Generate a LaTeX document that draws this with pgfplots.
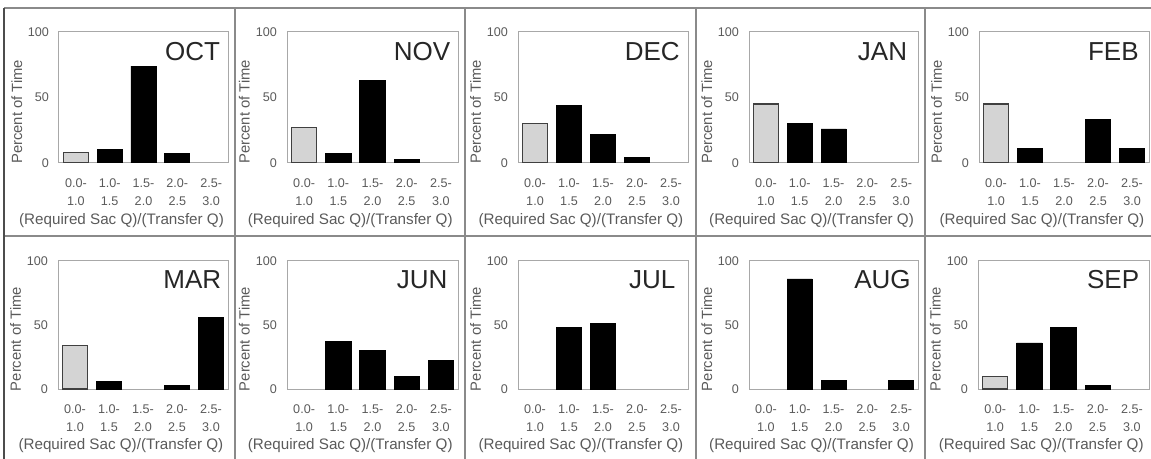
\documentclass[border=0pt]{standalone}
\usepackage{pgfplots}
\pgfplotsset{compat=1.18}
\usepackage{fontspec}
\setmainfont{Liberation Sans}
\definecolor{tickgray}{HTML}{5A5A5A}
\definecolor{framegray}{HTML}{8A8A8A}
\definecolor{lightbar}{HTML}{D4D4D4}
\definecolor{boxgray}{HTML}{A8A8A8}

\pgfplotsset{panel/.style={
  scale only axis,
  xmin=-0.5, xmax=4.5, ymin=0, ymax=100,
  ytick={0,50,100},
  xtick={0,1,2,3,4},
  xticklabels={{0.0-\\1.0},{1.0-\\1.5},{1.5-\\2.0},{2.0-\\2.5},{2.5-\\3.0}},
  x tick label style={align=center, font=\fontsize{6.3}{9}\selectfont, text=tickgray, yshift=-4.5pt},
  y tick label style={font=\fontsize{6.3}{7}\selectfont, text=tickgray, xshift=-1.5pt},
  /pgf/number format/assume math mode=true,
  major tick length=0pt,
  axis line style={draw=boxgray, line width=0.5pt},
  ylabel={Percent of Time},
  ylabel style={at={(axis description cs:-0.25,0.39)}, anchor=center, font=\fontsize{7.4}{8}\selectfont, text=tickgray},
  xlabel={(Required Sac Q)/(Transfer Q)},
  xlabel style={at={(axis description cs:0.37,-0.44)}, anchor=center, font=\fontsize{7.6}{8}\selectfont, text=tickgray},
  ybar, bar width=0.74,
}}

% #1 left px, #2 bottom px, #3 width px, #4 height px, #5 month, #6 gray coords, #7 black coords
\newcommand{\panel}[7]{%
\begin{axis}[panel, at={(#1*0.5pt,-#2*0.5pt)}, anchor=south west, width=#3*0.5pt, height=#4*0.5pt]
  \addplot[fill=lightbar, draw=black!75, line width=0.6pt, bar shift=0pt] coordinates {#6};
  \addplot[fill=black, draw=black, bar shift=0pt] coordinates {#7};
  \node[anchor=base, font=\fontsize{13}{14}\selectfont, text=black!85] at (rel axis cs:0.79,0.785) {#5};
\end{axis}}

\begin{document}
\begin{tikzpicture}
\useasboundingbox (0,0) rectangle (1151*0.5pt,-459*0.5pt);
% panel frames
\draw[framegray, line width=0.6pt] (4*0.5pt,-8*0.5pt) -- (1151*0.5pt,-8*0.5pt);
\draw[framegray, line width=0.6pt] (4*0.5pt,-236*0.5pt) -- (1151*0.5pt,-236*0.5pt);
\draw[black!70, line width=1pt] (4*0.5pt,-8*0.5pt) -- (4*0.5pt,-459*0.5pt);
\foreach \xx in {235,465,696,925} {
  \draw[framegray, line width=0.6pt] (\xx*0.5pt,-8*0.5pt) -- (\xx*0.5pt,-459*0.5pt);
}

% row 1
\panel{59}{163}{169}{131}{OCT}{(0,8)}{(1,10) (2,74) (3,7)}
\panel{287}{163}{171}{131}{NOV}{(0,27)}{(1,7) (2,63) (3,3)}
\panel{518}{163}{170}{131}{DEC}{(0,30)}{(1,44) (2,22) (3,4)}
\panel{749}{163}{169}{131}{JAN}{(0,45)}{(1,30) (2,26)}
\panel{979}{163}{170}{131}{FEB}{(0,45)}{(1,11) (3,33) (4,11)}
% row 2
\panel{58}{389}{170}{128}{MAR}{(0,34)}{(1,6) (3,3) (4,56)}
\panel{287}{389}{171}{128}{JUN}{}{(1,37) (2,30) (3,10) (4,22)}
\panel{518}{389}{170}{128}{JUL}{}{(1,48) (2,51)}
\panel{749}{389}{169}{128}{AUG}{}{(1,86) (2,7) (4,7)}
\panel{978}{389}{171}{128}{SEP}{(0,10)}{(1,36) (2,48) (3,3)}
\end{tikzpicture}
\end{document}
